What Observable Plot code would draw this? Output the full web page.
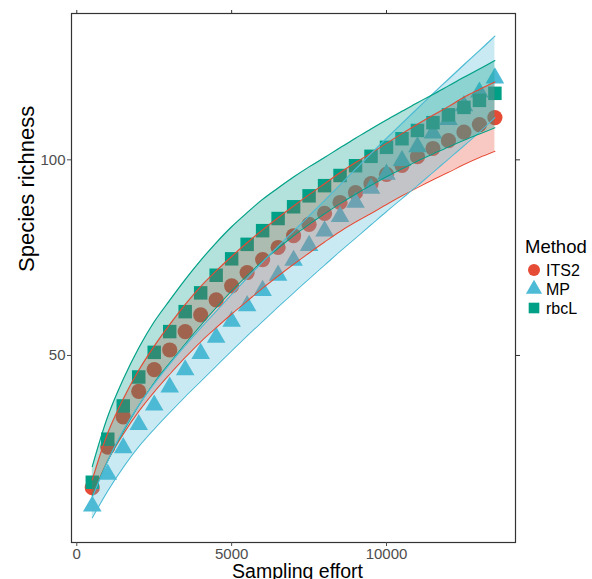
<!DOCTYPE html>
<html><head><meta charset="utf-8">
<script src="https://cdn.jsdelivr.net/npm/d3@7"></script>
<script src="https://cdn.jsdelivr.net/npm/@observablehq/plot@0.6"></script>
<style>
body{margin:0;background:#fff;font-family:"Liberation Sans",Arial,sans-serif;}
#wrap{position:relative;width:592px;height:579px;overflow:hidden;background:#fff;}
</style></head><body><div id="wrap"></div>
<script>
const efforts = [500,1000,1500,2000,2500,3000,3500,4000,4500,5000,5500,6000,6500,7000,7500,8000,8500,9000,9500,10000,10500,11000,11500,12000,12500,13000,13500];

const its2   = [16.2,26.6,34.3,40.8,46.4,51.4,56.1,60.4,64.2,67.8,71.2,74.5,77.6,80.6,83.5,86.3,89.1,91.6,93.9,96.3,98.6,100.8,102.9,104.9,107.1,109.0,110.8];
const its2Lo = [14.2,23.2,29.9,35.7,40.7,45.2,49.5,53.5,57.1,60.6,63.9,67.2,70.3,73.3,76.2,79.0,81.7,84.1,86.3,88.6,90.8,92.9,94.9,96.8,98.8,100.6,102.2];
const its2Hi = [18.2,30.2,38.9,46.2,52.4,57.9,63.0,67.6,71.6,75.3,78.8,82.1,85.2,88.2,91.1,93.9,96.7,99.3,101.7,104.2,106.7,109.1,111.4,113.6,116.0,118.0,119.9];

const mp     = [11.5,19.6,26.4,32.3,37.3,41.9,46.3,50.5,54.6,58.7,62.7,66.6,70.5,74.3,78.1,81.8,85.5,89.1,92.7,96.3,99.8,103.3,106.8,110.3,113.8,117.3,120.9];
const mpLo   = [8.5,15.4,21.4,26.7,31.2,35.4,39.5,43.4,47.3,51.2,55.0,58.7,62.4,66.0,69.6,73.1,76.6,80.0,83.4,86.8,90.1,93.4,96.8,100.2,103.6,107.1,110.8];
const mpHi   = [13.7,23.1,30.8,37.3,42.8,47.8,52.5,57.0,61.3,65.6,69.8,73.9,77.9,81.8,85.7,89.6,93.6,97.6,101.6,105.5,109.3,113.1,116.9,120.6,124.3,127.9,131.6];

const rbcl   = [17.6,28.6,37.1,44.5,50.8,56.1,61.2,66.0,70.5,74.7,78.4,81.9,85.0,88.0,90.8,93.4,96.0,98.5,100.9,103.2,105.4,107.5,109.5,111.5,113.4,115.2,117.0];
const rbclLo = [14.1,23.1,30.5,37.2,43.1,48.1,53.0,57.7,62.2,66.5,70.4,74.1,77.4,80.6,83.5,86.2,88.8,91.2,93.5,95.7,97.7,99.7,101.5,103.3,105.0,106.6,108.2];
const rbclHi = [21.6,34.4,43.9,51.9,58.6,64.1,69.4,74.3,78.8,82.9,86.5,89.9,92.8,95.6,98.2,100.6,103.1,105.5,107.9,110.2,112.4,114.6,116.7,118.9,121.1,123.2,125.4];

const methods = ["ITS2","MP","rbcL"];
const colors  = ["#E64B35","#4DBBD5","#00A087"];
const symbols = ["circle","triangle","square"];
const xTicks = [0,5000,10000];
const yTicks = [50,100];

const series = {ITS2:[its2,its2Lo,its2Hi], MP:[mp,mpLo,mpHi], rbcL:[rbcl,rbclLo,rbclHi]};
const rows = methods.flatMap(m => efforts.map((x,i) => ({method:m, x, y:series[m][0][i], lo:series[m][1][i], hi:series[m][2][i]})));
const markerR = {ITS2:7.6, MP:6.9, rbcL:7.6};

const font = "Liberation Sans, Arial, sans-serif";
const plot = Plot.plot({
  width:592, height:579,
  marginLeft:71, marginRight:77, marginTop:13, marginBottom:37,
  x:{domain:[-171,14165]},
  y:{domain:[2.2,137.4]},
  color:{domain:methods, range:colors},
  symbol:{domain:methods, range:symbols},
  style:{fontFamily:font, background:"white", overflow:"visible"},
  marks:[
    ...methods.map(m => Plot.dot(rows.filter(d => d.method === m),{x:"x",y:"y",fill:"method",symbol:"method",r:markerR[m],stroke:"none"})),
    Plot.areaY(rows,{x:"x",y1:"lo",y2:"hi",z:"method",fill:"method",fillOpacity:0.3,curve:"catmull-rom"}),
    Plot.line(rows,{x:"x",y:"lo",z:"method",stroke:"method",strokeWidth:1.1,curve:"catmull-rom"}),
    Plot.line(rows,{x:"x",y:"hi",z:"method",stroke:"method",strokeWidth:1.1,curve:"catmull-rom"}),
    Plot.frame({stroke:"#333",strokeWidth:1.2}),
    Plot.axisX({anchor:"bottom",ticks:xTicks,tickFormat:d=>String(d),tickSize:4,tickPadding:2,fontSize:15,label:null,color:"#4d4d4d"}),
    Plot.axisX({anchor:"top",ticks:xTicks,tickSize:4,tickFormat:()=>"",label:null,color:"#333"}),
    Plot.axisY({anchor:"left",ticks:yTicks,tickFormat:d=>String(d),tickSize:4,tickPadding:2,fontSize:15,label:null,color:"#4d4d4d"}),
    Plot.axisY({anchor:"right",ticks:yTicks,tickSize:4,tickFormat:()=>"",label:null,color:"#333"}),
    Plot.text(["Sampling effort"],{frameAnchor:"bottom",lineAnchor:"bottom",dy:35,dx:4,fontSize:19.5,fill:"#000"}),
    Plot.text(["Species richness"],{frameAnchor:"left",lineAnchor:"bottom",rotate:-90,dx:-38,dy:-6,fontSize:22,fill:"#000"})
  ]
});
const wrap = document.getElementById("wrap");
wrap.appendChild(plot);

// legend
const ns = "http://www.w3.org/2000/svg";
const leg = document.createElementNS(ns,"svg");
leg.setAttribute("width","77"); leg.setAttribute("height","100");
leg.style.position="absolute"; leg.style.left="515px"; leg.style.top="225px";
leg.style.fontFamily = font;
function el(tag, attrs, text){ const e=document.createElementNS(ns,tag); for(const k in attrs) e.setAttribute(k,attrs[k]); if(text!=null) e.textContent=text; leg.appendChild(e); return e; }
el("text",{x:10,y:28.3,"font-size":18.5,fill:"#000"},"Method");
const symTypes = {circle:d3.symbolCircle, triangle:d3.symbolTriangle, square:d3.symbolSquare};
const rowY = [45,64,83];
const baseY = [51,70,89];
methods.forEach((m,i)=>{
  const sym = d3.symbol(symTypes[symbols[i]], Math.PI*6*6)();
  el("path",{d:sym,transform:`translate(19,${rowY[i]})`,fill:colors[i]});
  el("text",{x:31,y:baseY[i],"font-size":16,fill:"#000"},m);
});
wrap.appendChild(leg);
</script>
</body></html>
